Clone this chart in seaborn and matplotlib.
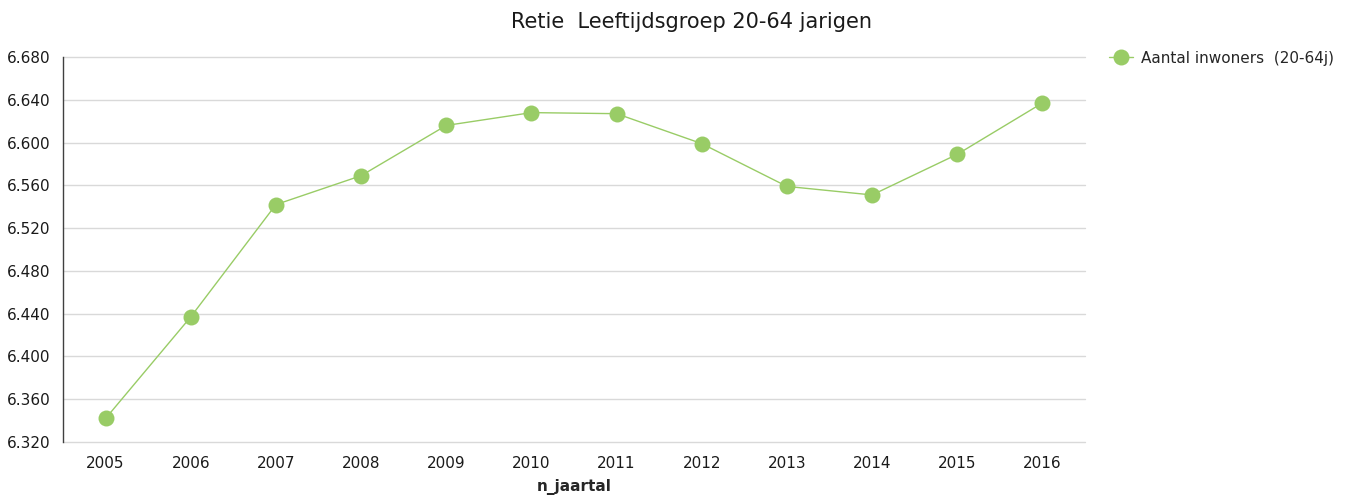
import matplotlib
matplotlib.use("Agg")
import matplotlib.pyplot as plt
import matplotlib.ticker as mticker
import seaborn as sns
import pandas as pd

years = ["2005", "2006", "2007", "2008", "2009", "2010",
         "2011", "2012", "2013", "2014", "2015", "2016"]
inwoners = [6342, 6437, 6542, 6569, 6616, 6628,
            6627, 6599, 6559, 6551, 6589, 6637]
series_name = "Aantal inwoners  (20-64j)"
title = "Retie  Leeftijdsgroep 20-64 jarigen"
xlabel = "n_jaartal"
yticks = list(range(6320, 6681, 40))

df = pd.DataFrame({"jaar": years, "waarde": inwoners})

sns.set_style("white")
plt.rcParams["font.family"] = ["DejaVu Sans"]

green = "#99CC66"
fig = plt.figure(figsize=(13.52, 4.97), dpi=100)
ax = fig.add_axes([63/1352, 1-442/497, (1085-63)/1352, (442-57)/497])

sns.lineplot(data=df, x="jaar", y="waarde", ax=ax, color=green,
             linewidth=1.0, marker="o", markersize=11.5,
             markeredgewidth=0, label=series_name, sort=False)

ax.set_xlim(-0.5, len(years) - 0.5)
ax.set_ylim(yticks[0], yticks[-1])
ax.set_yticks(yticks)
ax.yaxis.set_major_formatter(mticker.FuncFormatter(lambda v, p: f"{v/1000:.3f}"))
ax.grid(axis="y", color="#D9D9D9", linewidth=1.0)
for gl in ax.get_ygridlines():
    gl.set_clip_on(False)
ax.set_axisbelow(True)
for s in ["top", "right", "bottom"]:
    ax.spines[s].set_visible(False)
ax.spines["left"].set_color("#404040")
ax.spines["left"].set_linewidth(1.0)
ax.spines["left"].set_zorder(3)
ax.tick_params(axis="both", length=0, labelsize=11, colors="#1a1a1a")
ax.tick_params(axis="x", pad=10)
ax.tick_params(axis="y", pad=9)
ax.set_ylabel("")
ax.set_xlabel(xlabel, fontsize=11, fontweight="bold", labelpad=6)

leg = ax.legend(loc="upper left", bbox_to_anchor=(1095/1352, 1-37/497),
                bbox_transform=fig.transFigure, frameon=False,
                fontsize=11, handlelength=1.6, handletextpad=0.5)

fig.text(692/1352, 1-22/497, title, ha="center", va="center", fontsize=15,
         color="#1a1a1a")

fig.savefig("out.png", dpi=100)
